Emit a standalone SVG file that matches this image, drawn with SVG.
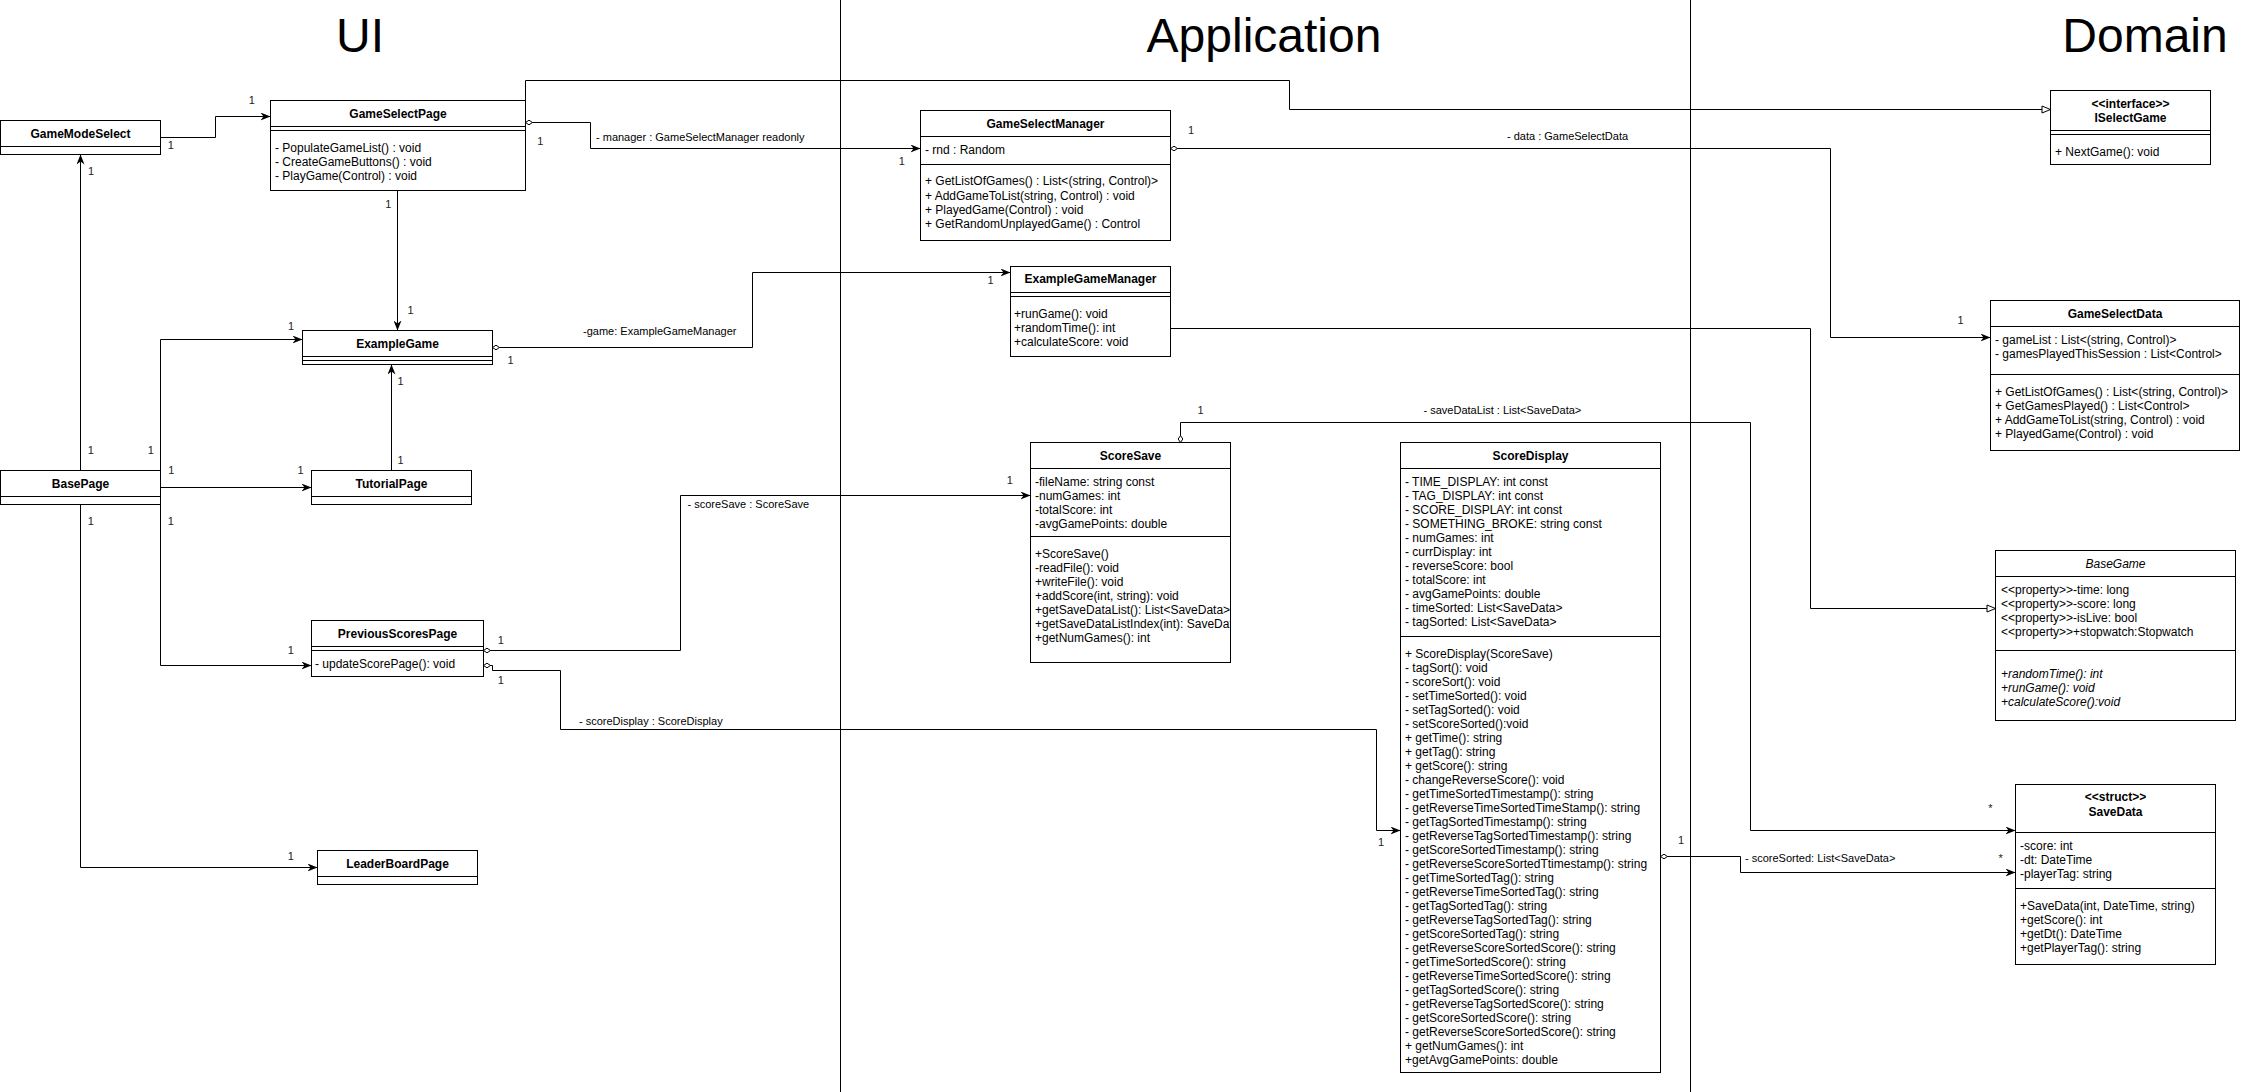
<svg xmlns="http://www.w3.org/2000/svg" width="2241" height="1092" viewBox="0 0 2241 1092">
<style>
  text { font-family: "Liberation Sans", Arial, Helvetica, sans-serif; fill: #000; }
  .title { font-size: 48px; text-anchor: middle; }
  .name { font-size: 12px; font-weight: bold; text-anchor: middle; }
  .abs { font-weight: normal; font-style: italic; }
  .mem { font-size: 12px; }
  .it { font-style: italic; }
  .lbl { font-size: 11px; }
  .mult { font-size: 11px; text-anchor: middle; fill: #222; }
  .box { fill: #fff; stroke: #000; stroke-width: 1; }
  .sep { stroke: #000; stroke-width: 1; fill: none; }
  .edge { fill: none; stroke: #000; stroke-width: 1; }
  .lane { stroke: #000; stroke-width: 1; }
  .nav { marker-end: url(#arrow); }
  .agg { marker-start: url(#diamond); marker-end: url(#arrow); }
  .real { marker-end: url(#realize); }
</style>
<defs>
  <marker id="arrow" markerUnits="userSpaceOnUse" viewBox="0 0 10 8" refX="10" refY="4" markerWidth="10" markerHeight="8" orient="auto">
    <path d="M0,0 L10,4 L0,8 L3,4 z" fill="#000"/>
  </marker>
  <marker id="diamond" markerUnits="userSpaceOnUse" viewBox="0 0 8 6" refX="0.5" refY="3" markerWidth="8" markerHeight="6" orient="auto">
    <path d="M0.5,3 L4,0.7 L7.5,3 L4,5.3 z" fill="#fff" stroke="#000" stroke-width="1"/>
  </marker>
  <marker id="realize" markerUnits="userSpaceOnUse" viewBox="0 0 10 9" refX="9.5" refY="4.5" markerWidth="10" markerHeight="9" orient="auto">
    <path d="M1,1 L9.5,4.5 L1,8 z" fill="#fff" stroke="#000" stroke-width="1"/>
  </marker>
  <clipPath id="clipScoreSave">
    <rect x="1031" y="443" width="199" height="219"/>
  </clipPath>
</defs>

<rect x="0" y="0" width="2241" height="1092" fill="#fff"/>

<!-- layer lanes -->
<g id="lanes">
  <line class="lane" x1="840.5" y1="0" x2="840.5" y2="1092"/>
  <line class="lane" x1="1690.5" y1="0" x2="1690.5" y2="1092"/>
  <text class="title" x="360" y="52">UI</text>
  <text class="title" x="1264" y="52">Application</text>
  <text class="title" x="2145" y="52">Domain</text>
</g>

<!-- associations, navigations and realizations -->
<g id="connectors">
  <path class="edge nav" d="M160.5,137.5 H215.5 V116.5 H270.5"/>
  <path class="edge nav" d="M80.5,470.5 V154.5"/>
  <path class="edge nav" d="M397.5,190.5 V330.5"/>
  <path class="edge nav" d="M160.5,470.5 V339.5 H302.5"/>
  <path class="edge nav" d="M391.5,470.5 V364.5"/>
  <path class="edge nav" d="M160.5,487.5 H311.5"/>
  <path class="edge nav" d="M160.5,504.5 V665.5 H311.5"/>
  <path class="edge nav" d="M80.5,504.5 V867.5 H317.5"/>
  <path class="edge agg" d="M525.5,122.5 H590.5 V148.5 H920.5"/>
  <path class="edge real" d="M525.5,100.5 V80.5 H1289.5 V109.5 H2050.5"/>
  <path class="edge agg" d="M492.5,347.5 H752.5 V272.5 H1010.5"/>
  <path class="edge agg" d="M1170.5,148.5 H1830.5 V337.5 H1990.5"/>
  <path class="edge real" d="M1170.5,328.5 H1810.5 V608.5 H1995.5"/>
  <path class="edge agg" d="M483.5,650.5 H680.5 V495.5 H1030.5"/>
  <path class="edge agg" d="M483.5,665.5 H492.5 V670.5 H560.5 V729.5 H1376.5 V830.5 H1400.5"/>
  <path class="edge agg" d="M1180.5,442.5 V422.5 H1750.5 V830.5 H2015.5"/>
  <path class="edge agg" d="M1660.5,856.5 H1740.5 V872.5 H2015.5"/>

  <text class="lbl" x="596" y="140.5">- manager : GameSelectManager readonly</text>
  <text class="lbl" x="583" y="334.5">-game: ExampleGameManager</text>
  <text class="lbl" x="1507" y="140">- data : GameSelectData</text>
  <text class="lbl" x="687.5" y="508">- scoreSave : ScoreSave</text>
  <text class="lbl" x="579" y="724.5">- scoreDisplay : ScoreDisplay</text>
  <text class="lbl" x="1423.5" y="414">- saveDataList : List&lt;SaveData&gt;</text>
  <text class="lbl" x="1745" y="862">- scoreSorted: List&lt;SaveData&gt;</text>

  <text class="mult" x="251.7" y="104.3">1</text>
  <text class="mult" x="170.7" y="149.3">1</text>
  <text class="mult" x="91" y="175">1</text>
  <text class="mult" x="90.7" y="454.3">1</text>
  <text class="mult" x="388.4" y="208">1</text>
  <text class="mult" x="410.6" y="314">1</text>
  <text class="mult" x="150.7" y="454.3">1</text>
  <text class="mult" x="291" y="330">1</text>
  <text class="mult" x="400.6" y="385">1</text>
  <text class="mult" x="400.6" y="464.3">1</text>
  <text class="mult" x="171.4" y="474.3">1</text>
  <text class="mult" x="300.6" y="474.3">1</text>
  <text class="mult" x="170.7" y="525">1</text>
  <text class="mult" x="290.8" y="654">1</text>
  <text class="mult" x="90.7" y="525">1</text>
  <text class="mult" x="290.8" y="860">1</text>
  <text class="mult" x="540.4" y="144.7">1</text>
  <text class="mult" x="901.7" y="164.7">1</text>
  <text class="mult" x="510.5" y="364.3">1</text>
  <text class="mult" x="990.6" y="284">1</text>
  <text class="mult" x="1191" y="134">1</text>
  <text class="mult" x="1960.6" y="324">1</text>
  <text class="mult" x="500.7" y="644">1</text>
  <text class="mult" x="1009.8" y="484.3">1</text>
  <text class="mult" x="500.7" y="684.3">1</text>
  <text class="mult" x="1381" y="845.7">1</text>
  <text class="mult" x="1200.6" y="414">1</text>
  <text class="mult" x="1681" y="844.3">1</text>
  <text class="mult" x="1990.4" y="812.3">*</text>
  <text class="mult" x="2000.6" y="862.3">*</text>
</g>

<!-- UI layer -->
<g id="GameModeSelect">
  <rect class="box" x="0.5" y="120.5" width="160" height="34"/>
  <line class="sep" x1="0.5" y1="146.5" x2="160.5" y2="146.5"/>
  <text class="name" x="80.5" y="137.5">GameModeSelect</text>
</g>

<g id="GameSelectPage">
  <rect class="box" x="270.5" y="100.5" width="255" height="90"/>
  <line class="sep" x1="270.5" y1="126.5" x2="525.5" y2="126.5"/>
  <line class="sep" x1="270.5" y1="130.5" x2="525.5" y2="130.5"/>
  <text class="name" x="398" y="117.5">GameSelectPage</text>
  <text class="mem" x="275" y="152">- PopulateGameList() : void</text>
  <text class="mem" x="275" y="166">- CreateGameButtons() : void</text>
  <text class="mem" x="275" y="180">- PlayGame(Control) : void</text>
</g>

<g id="ExampleGame">
  <rect class="box" x="302.5" y="330.5" width="190" height="34"/>
  <line class="sep" x1="302.5" y1="356.5" x2="492.5" y2="356.5"/>
  <line class="sep" x1="302.5" y1="360.5" x2="492.5" y2="360.5"/>
  <text class="name" x="397.5" y="347.5">ExampleGame</text>
</g>

<g id="BasePage">
  <rect class="box" x="0.5" y="470.5" width="160" height="34"/>
  <line class="sep" x1="0.5" y1="496.5" x2="160.5" y2="496.5"/>
  <text class="name" x="80.5" y="487.5">BasePage</text>
</g>

<g id="TutorialPage">
  <rect class="box" x="311.5" y="470.5" width="160" height="34"/>
  <line class="sep" x1="311.5" y1="496.5" x2="471.5" y2="496.5"/>
  <text class="name" x="391.5" y="487.5">TutorialPage</text>
</g>

<g id="PreviousScoresPage">
  <rect class="box" x="311.5" y="620.5" width="172" height="56"/>
  <line class="sep" x1="311.5" y1="646.5" x2="483.5" y2="646.5"/>
  <line class="sep" x1="311.5" y1="650.5" x2="483.5" y2="650.5"/>
  <text class="name" x="397.5" y="637.5">PreviousScoresPage</text>
  <text class="mem" x="315" y="668">- updateScorePage(): void</text>
</g>

<g id="LeaderBoardPage">
  <rect class="box" x="317.5" y="850.5" width="160" height="34"/>
  <line class="sep" x1="317.5" y1="876.5" x2="477.5" y2="876.5"/>
  <text class="name" x="397.5" y="867.5">LeaderBoardPage</text>
</g>

<!-- Application layer -->
<g id="GameSelectManager">
  <rect class="box" x="920.5" y="110.5" width="250" height="130"/>
  <line class="sep" x1="920.5" y1="136.5" x2="1170.5" y2="136.5"/>
  <line class="sep" x1="920.5" y1="164.5" x2="1170.5" y2="164.5"/>
  <text class="name" x="1045.5" y="127.5">GameSelectManager</text>
  <text class="mem" x="925" y="154">- rnd : Random</text>
  <text class="mem" x="925" y="185">+ GetListOfGames() : List&lt;(string, Control)&gt;</text>
  <text class="mem" x="925" y="199.5">+ AddGameToList(string, Control) : void</text>
  <text class="mem" x="925" y="213.5">+ PlayedGame(Control) : void</text>
  <text class="mem" x="925" y="228">+ GetRandomUnplayedGame() : Control</text>
</g>

<g id="ExampleGameManager">
  <rect class="box" x="1010.5" y="266.5" width="160" height="90"/>
  <line class="sep" x1="1010.5" y1="292.5" x2="1170.5" y2="292.5"/>
  <line class="sep" x1="1010.5" y1="296.5" x2="1170.5" y2="296.5"/>
  <text class="name" x="1090.5" y="283">ExampleGameManager</text>
  <text class="mem" x="1014" y="318">+runGame(): void</text>
  <text class="mem" x="1014" y="332">+randomTime(): int</text>
  <text class="mem" x="1014" y="346">+calculateScore: void</text>
</g>

<g id="ScoreSave">
  <rect class="box" x="1030.5" y="442.5" width="200" height="220"/>
  <line class="sep" x1="1030.5" y1="468.5" x2="1230.5" y2="468.5"/>
  <line class="sep" x1="1030.5" y1="536.5" x2="1230.5" y2="536.5"/>
  <text class="name" x="1130.5" y="459.5">ScoreSave</text>
  <g clip-path="url(#clipScoreSave)">
    <text class="mem" x="1035" y="486">-fileName: string const</text>
    <text class="mem" x="1035" y="500">-numGames: int</text>
    <text class="mem" x="1035" y="514">-totalScore: int</text>
    <text class="mem" x="1035" y="528">-avgGamePoints: double</text>
    <text class="mem" x="1035" y="558">+ScoreSave()</text>
    <text class="mem" x="1035" y="572">-readFile(): void</text>
    <text class="mem" x="1035" y="586">+writeFile(): void</text>
    <text class="mem" x="1035" y="600">+addScore(int, string): void</text>
    <text class="mem" x="1035" y="614">+getSaveDataList(): List&lt;SaveData&gt;</text>
    <text class="mem" x="1035" y="628">+getSaveDataListIndex(int): SaveData</text>
    <text class="mem" x="1035" y="642">+getNumGames(): int</text>
  </g>
</g>

<g id="ScoreDisplay">
  <rect class="box" x="1400.5" y="442.5" width="260" height="630"/>
  <line class="sep" x1="1400.5" y1="468.5" x2="1660.5" y2="468.5"/>
  <line class="sep" x1="1400.5" y1="636.5" x2="1660.5" y2="636.5"/>
  <text class="name" x="1530.5" y="459.5">ScoreDisplay</text>
  <text class="mem" x="1405" y="485.7">- TIME_DISPLAY: int const</text>
  <text class="mem" x="1405" y="499.7">- TAG_DISPLAY: int const</text>
  <text class="mem" x="1405" y="513.7">- SCORE_DISPLAY: int const</text>
  <text class="mem" x="1405" y="527.7">- SOMETHING_BROKE: string const</text>
  <text class="mem" x="1405" y="541.7">- numGames: int</text>
  <text class="mem" x="1405" y="555.7">- currDisplay: int</text>
  <text class="mem" x="1405" y="569.7">- reverseScore: bool</text>
  <text class="mem" x="1405" y="583.7">- totalScore: int</text>
  <text class="mem" x="1405" y="597.7">- avgGamePoints: double</text>
  <text class="mem" x="1405" y="611.7">- timeSorted: List&lt;SaveData&gt;</text>
  <text class="mem" x="1405" y="625.7">- tagSorted: List&lt;SaveData&gt;</text>
  <text class="mem" x="1405" y="657.7">+ ScoreDisplay(ScoreSave)</text>
  <text class="mem" x="1405" y="671.7">- tagSort(): void</text>
  <text class="mem" x="1405" y="685.7">- scoreSort(): void</text>
  <text class="mem" x="1405" y="699.7">- setTimeSorted(): void</text>
  <text class="mem" x="1405" y="713.7">- setTagSorted(): void</text>
  <text class="mem" x="1405" y="727.7">- setScoreSorted():void</text>
  <text class="mem" x="1405" y="741.7">+ getTime(): string</text>
  <text class="mem" x="1405" y="755.7">+ getTag(): string</text>
  <text class="mem" x="1405" y="769.7">+ getScore(): string</text>
  <text class="mem" x="1405" y="783.7">- changeReverseScore(): void</text>
  <text class="mem" x="1405" y="797.7">- getTimeSortedTimestamp(): string</text>
  <text class="mem" x="1405" y="811.7">- getReverseTimeSortedTimeStamp(): string</text>
  <text class="mem" x="1405" y="825.7">- getTagSortedTimestamp(): string</text>
  <text class="mem" x="1405" y="839.7">- getReverseTagSortedTimestamp(): string</text>
  <text class="mem" x="1405" y="853.7">- getScoreSortedTimestamp(): string</text>
  <text class="mem" x="1405" y="867.7">- getReverseScoreSortedTtimestamp(): string</text>
  <text class="mem" x="1405" y="881.7">- getTimeSortedTag(): string</text>
  <text class="mem" x="1405" y="895.7">- getReverseTimeSortedTag(): string</text>
  <text class="mem" x="1405" y="909.7">- getTagSortedTag(): string</text>
  <text class="mem" x="1405" y="923.7">- getReverseTagSortedTag(): string</text>
  <text class="mem" x="1405" y="937.7">- getScoreSortedTag(): string</text>
  <text class="mem" x="1405" y="951.7">- getReverseScoreSortedScore(): string</text>
  <text class="mem" x="1405" y="965.7">- getTimeSortedScore(): string</text>
  <text class="mem" x="1405" y="979.7">- getReverseTimeSortedScore(): string</text>
  <text class="mem" x="1405" y="993.7">- getTagSortedScore(): string</text>
  <text class="mem" x="1405" y="1007.7">- getReverseTagSortedScore(): string</text>
  <text class="mem" x="1405" y="1021.7">- getScoreSortedScore(): string</text>
  <text class="mem" x="1405" y="1035.7">- getReverseScoreSortedScore(): string</text>
  <text class="mem" x="1405" y="1049.7">+ getNumGames(): int</text>
  <text class="mem" x="1405" y="1063.7">+getAvgGamePoints: double</text>
</g>

<!-- Domain layer -->
<g id="ISelectGame">
  <rect class="box" x="2050.5" y="90.5" width="160" height="74"/>
  <line class="sep" x1="2050.5" y1="130.5" x2="2210.5" y2="130.5"/>
  <line class="sep" x1="2050.5" y1="134.5" x2="2210.5" y2="134.5"/>
  <text class="name" x="2130.5" y="107.7">&lt;&lt;interface&gt;&gt;</text>
  <text class="name" x="2130.5" y="122">ISelectGame</text>
  <text class="mem" x="2055" y="155.7">+ NextGame(): void</text>
</g>

<g id="GameSelectData">
  <rect class="box" x="1990.5" y="300.5" width="249" height="150"/>
  <line class="sep" x1="1990.5" y1="326.5" x2="2239.5" y2="326.5"/>
  <line class="sep" x1="1990.5" y1="374.5" x2="2239.5" y2="374.5"/>
  <text class="name" x="2115" y="318">GameSelectData</text>
  <text class="mem" x="1995" y="344">- gameList : List&lt;(string, Control)&gt;</text>
  <text class="mem" x="1995" y="358">- gamesPlayedThisSession : List&lt;Control&gt;</text>
  <text class="mem" x="1995" y="395.7">+ GetListOfGames() : List&lt;(string, Control)&gt;</text>
  <text class="mem" x="1995" y="409.7">+ GetGamesPlayed() : List&lt;Control&gt;</text>
  <text class="mem" x="1995" y="423.7">+ AddGameToList(string, Control) : void</text>
  <text class="mem" x="1995" y="437.7">+ PlayedGame(Control) : void</text>
</g>

<g id="BaseGame">
  <rect class="box" x="1995.5" y="550.5" width="240" height="170"/>
  <line class="sep" x1="1995.5" y1="576.5" x2="2235.5" y2="576.5"/>
  <line class="sep" x1="1995.5" y1="650.5" x2="2235.5" y2="650.5"/>
  <text class="name abs" x="2115.5" y="568">BaseGame</text>
  <text class="mem" x="2001" y="594">&lt;&lt;property&gt;&gt;-time: long</text>
  <text class="mem" x="2001" y="608">&lt;&lt;property&gt;&gt;-score: long</text>
  <text class="mem" x="2001" y="622">&lt;&lt;property&gt;&gt;-isLive: bool</text>
  <text class="mem" x="2001" y="636">&lt;&lt;property&gt;&gt;+stopwatch:Stopwatch</text>
  <text class="mem it" x="2001" y="678">+randomTime(): int</text>
  <text class="mem it" x="2001" y="692">+runGame(): void</text>
  <text class="mem it" x="2001" y="706">+calculateScore():void</text>
</g>

<g id="SaveData">
  <rect class="box" x="2015.5" y="784.5" width="200" height="180"/>
  <line class="sep" x1="2015.5" y1="832.5" x2="2215.5" y2="832.5"/>
  <line class="sep" x1="2015.5" y1="888.5" x2="2215.5" y2="888.5"/>
  <text class="name" x="2115.5" y="801.3">&lt;&lt;struct&gt;&gt;</text>
  <text class="name" x="2115.5" y="815.7">SaveData</text>
  <text class="mem" x="2020" y="849.7">-score: int</text>
  <text class="mem" x="2020" y="863.7">-dt: DateTime</text>
  <text class="mem" x="2020" y="877.7">-playerTag: string</text>
  <text class="mem" x="2020" y="909.7">+SaveData(int, DateTime, string)</text>
  <text class="mem" x="2020" y="923.7">+getScore(): int</text>
  <text class="mem" x="2020" y="937.7">+getDt(): DateTime</text>
  <text class="mem" x="2020" y="951.7">+getPlayerTag(): string</text>
</g>
</svg>
